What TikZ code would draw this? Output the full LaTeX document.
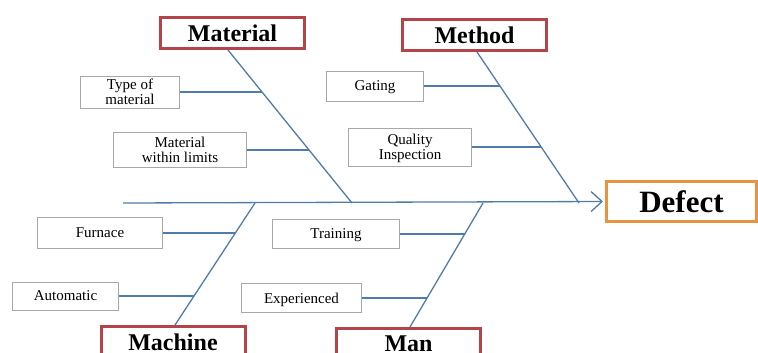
\documentclass[tikz,border=0pt]{standalone}
\usepackage{fontspec}
\setmainfont{Liberation Serif}
\usetikzlibrary{calc,arrows.meta}
\definecolor{bonecol}{RGB}{80,124,170}
\definecolor{catred}{RGB}{178,68,74}
\definecolor{effor}{RGB}{232,146,68}
\definecolor{subgray}{RGB}{168,168,168}

\begin{document}
\begin{tikzpicture}[x=1pt,y=-1pt,
    cause/.style={draw=catred,line width=3pt,minimum width=144pt,minimum height=31pt,
      inner sep=0pt,font=\fontsize{24}{24}\selectfont\bfseries},
    sub/.style={draw=subgray,line width=0.8pt,inner sep=0pt,align=center,text depth=0pt,
      font=\fontsize{15}{15}\selectfont},
    bone/.style={draw=bonecol,line width=1.3pt}]
  \useasboundingbox (0,0) rectangle (758,353);
  % effect and causes
  \node [draw=effor,line width=3pt,minimum width=150pt,minimum height=40pt,inner sep=0pt,
    font=\fontsize{31}{31}\selectfont\bfseries] (def) at (681.5,201.5) {Defect};
  \node [cause] (mat) at (232.5,33) {Material};
  \node [cause] (meth) at (474.5,35) {Method};
  \node [cause] (mac) at (173,342) {Machine};
  \node [cause] (man) at (408.5,344) {Man};
  % sub causes
  \node [sub,minimum width=99pt,minimum height=32pt] (tm) at (130,92) {Type of\\material};
  \node [sub,minimum width=133pt,minimum height=35pt] (mwl) at (180,150) {Material\\within limits};
  \node [sub,minimum width=97pt,minimum height=30pt] (gat) at (375,86) {Gating};
  \node [sub,minimum width=123pt,minimum height=38pt] (qi) at (410,147) {Quality\\Inspection};
  \node [sub,minimum width=125pt,minimum height=31pt] (fur) at (100,233) {Furnace};
  \node [sub,minimum width=106pt,minimum height=28pt] (aut) at (65.5,296) {Automatic};
  \node [sub,minimum width=127pt,minimum height=29pt] (tr) at (336,234) {Training};
  \node [sub,minimum width=120pt,minimum height=29pt] (exp) at (301.5,298) {Experienced};
  % points on spine and bones
  \coordinate (tail) at (123,203);
  \coordinate (s1) at (352,203);
  \coordinate (s2) at (579,203);
  \coordinate (s3) at (255,203);
  \coordinate (s4) at (483,203);
  \coordinate (b1) at (262,92);
  \coordinate (b2) at (309,150);
  \coordinate (b3) at (500,86);
  \coordinate (b4) at (541.2,147);
  \coordinate (b5) at (235.2,233);
  \coordinate (b6) at (193.5,296);
  \coordinate (b7) at (464.6,234);
  \coordinate (b8) at (426.6,298);
  % spine
  \draw [bone,-{Straight Barb[length=11pt,width=20pt]},shorten >=2pt] (tail) -- (def.west);
  % bones
  \draw [bone] ([xshift=-4.5pt]mat.south) -- (s1);
  \draw [bone] ([xshift=2.5pt]meth.south) -- (s2);
  \draw [bone] ([xshift=2pt]mac.north) -- (s3);
  \draw [bone] ([xshift=1.5pt]man.north) -- (s4);
  % branches
  \draw [bone] (tm.east) -- (b1);
  \draw [bone] (mwl.east) -- (b2);
  \draw [bone] (gat.east) -- (b3);
  \draw [bone] (qi.east) -- (b4);
  \draw [bone] (fur.east) -- (b5);
  \draw [bone] (aut.east) -- (b6);
  \draw [bone] (tr.east) -- (b7);
  \draw [bone] (exp.east) -- (b8);
\end{tikzpicture}
\end{document}
